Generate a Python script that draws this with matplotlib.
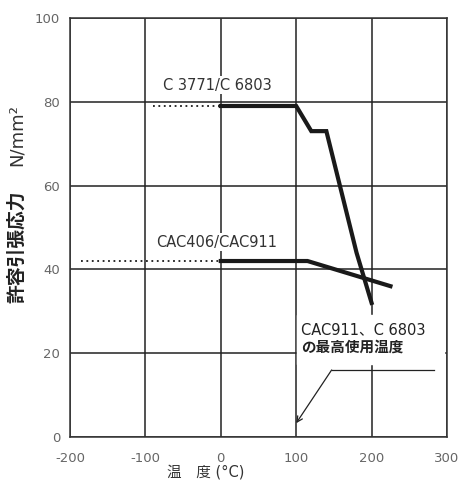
import matplotlib
matplotlib.use("Agg")
import matplotlib.pyplot as plt

plt.rcParams['font.family'] = ['DejaVu Sans', 'Noto Sans CJK JP']
plt.rcParams['axes.unicode_minus'] = False

# C 3771 / C 6803 curve
temp_c3771 = [0, 100, 120, 140, 180, 200]
stress_c3771 = [79, 79, 73, 73, 44, 32]
dotted_c3771_x = [-90, 0]
dotted_c3771_y = [79, 79]

# CAC406 / CAC911 curve
temp_cac406 = [0, 115, 225]
stress_cac406 = [42, 42, 36]
dotted_cac406_x = [-185, 0]
dotted_cac406_y = [42, 42]

x_ticks = [-200, -100, 0, 100, 200, 300]
y_ticks = [0, 20, 40, 60, 80, 100]

fig = plt.figure(figsize=(4.62, 4.8), dpi=100)
ax = fig.add_axes([70 / 462, 43 / 480, 377 / 462, 419 / 480])
ax.set_xlim(-200, 300)
ax.set_ylim(0, 100)
ax.set_xticks(x_ticks)
ax.set_yticks(y_ticks)
ax.tick_params(length=0, labelsize=9.5, labelcolor='#666666')
ax.tick_params(axis='y', pad=7)
ax.tick_params(axis='x', pad=11)
ax.grid(True, color='#222222', lw=1.1)
ax.set_axisbelow(True)
for s in ax.spines.values():
    s.set_color('#333333')
    s.set_linewidth(1.1)

line_col = '#1a1a1a'
ax.plot(temp_c3771, stress_c3771, color=line_col, lw=3, solid_joinstyle='miter', zorder=3)
ax.plot(temp_cac406, stress_cac406, color=line_col, lw=3, solid_joinstyle='miter', zorder=3)
ax.plot(dotted_c3771_x, dotted_c3771_y, color=line_col, lw=1.3, ls=(0, (1, 2)), zorder=3)
ax.plot(dotted_cac406_x, dotted_cac406_y, color=line_col, lw=1.3, ls=(0, (1, 2)), zorder=3)

ax.text(-77, 84, 'C 3771/C 6803', fontsize=10.5, color='#333333', va='center', ha='left',
        bbox=dict(facecolor='white', edgecolor='none', pad=1))
ax.text(-86, 46.5, 'CAC406/CAC911', fontsize=10.5, color='#333333', va='center', ha='left',
        bbox=dict(facecolor='white', edgecolor='none', pad=1))

# annotation for max operating temperature
ax.text(106, 25.5, 'CAC911、C 6803', fontsize=10.5, color='#222222', va='center', ha='left', zorder=4)
ax.text(106, 21.5, 'の最高使用温度', fontsize=10.5, fontweight='bold', color='#222222',
        va='center', ha='left', zorder=4, family='Noto Sans CJK JP')
ax.fill_between([101, 296], 17.5, 29, color='white', zorder=2.5)
ax.plot([283, 147], [16, 16], color='#222222', lw=0.9, zorder=4)
ax.annotate('', xy=(100, 3.3), xytext=(147, 16),
            arrowprops=dict(arrowstyle='->', lw=0.9, color='#222222', shrinkA=0, shrinkB=0),
            zorder=4)

# axis labels
fig.text(17 / 462, 1 - 247 / 480, '許容引張応力', rotation=90, fontsize=13.5, fontweight='bold',
         color='#222222', ha='center', va='center', family='Noto Sans CJK JP')
fig.text(17 / 462, 1 - 135 / 480, 'N/mm²', rotation=90, fontsize=13,
         color='#333333', ha='center', va='center')
ax.text(-20, -8.4, '温　度 (°C)', fontsize=10.5, color='#333333', ha='center', va='center',
        clip_on=False)

fig.savefig('out.png', dpi=100)
